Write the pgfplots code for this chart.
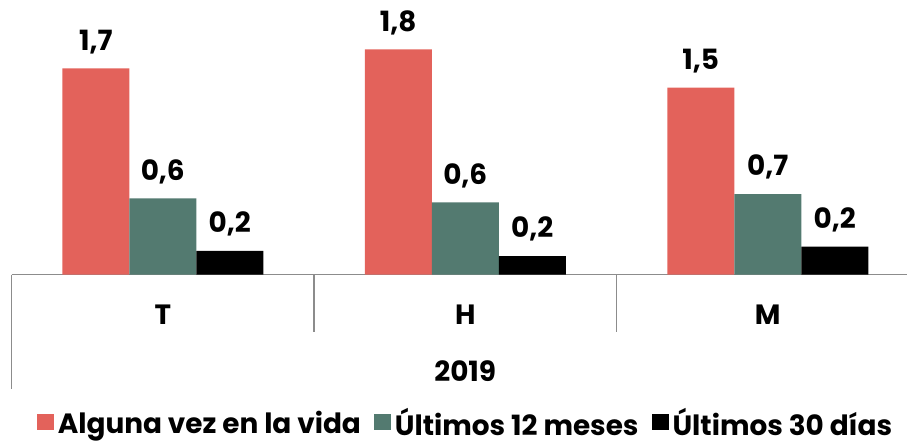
\documentclass[border=0pt]{standalone}
\usepackage{pgfplots}
\pgfplotsset{compat=1.18}
\usepackage{fontspec}
\setmainfont{Poppins}
\definecolor{cred}{RGB}{227,98,91}
\definecolor{cteal}{RGB}{83,122,112}
\definecolor{cgrid}{RGB}{140,140,140}
\newcommand\lf{\fontsize{28}{32}\selectfont\bfseries}
\begin{document}
\begin{tikzpicture}
\begin{axis}[
  scale only axis, width=895.5bp, height=274.5bp,
  at={(11.5bp,166.5bp)}, anchor=south west,
  xmin=-0.5, xmax=2.4603, ymin=0, ymax=2.241,
  axis x line=bottom, axis y line=none,
  x axis line style={-, cgrid, line width=1.2bp},
  xtick={0,1,2}, xticklabels={T,H,M}, major tick length=0pt,
  xticklabel style={font=\lf, anchor=base, inner sep=0pt, yshift=-49.5bp},
  ytick=\empty,
  ybar=0pt, bar width=67bp,
  clip=false,
  nodes near coords, point meta=explicit symbolic,
  every node near coord/.append style={font=\lf, anchor=south, inner sep=0pt, text depth=0pt, yshift=18bp},
  legend columns=3,
  legend style={draw=none, fill=none, font=\lf, inner sep=0pt, at={(465bp-11.5bp, -133bp)}, anchor=north,
    nodes={inner sep=1bp},
    /tikz/every odd column/.append style={column sep=3bp},
    /tikz/every even column/.append style={column sep=12bp}},
  legend image code/.code={\fill[#1] (0bp,-7bp) rectangle (17bp,9bp);},
]
\addplot[fill=cred, draw=none] coordinates {(0,1.683) [{1,7}] (1,1.838) [{1,8}] (2,1.525) [{1,5}]};
\addplot[fill=cteal, draw=none] coordinates {(0,0.622) [{0,6}] (1,0.589) [{0,6}] (2,0.657) [{0,7}]};
\addplot[fill=black, draw=none] coordinates {(0,0.192) [{0,2}] (1,0.151) [{0,2}] (2,0.227) [{0,2}]};
\legend{Alguna vez en la vida, Últimos 12 meses, Últimos 30 días}
\draw[cgrid, line width=1.2bp] (axis cs:-0.5,0) -- ([yshift=-114bp]axis cs:-0.5,0);
\draw[cgrid, line width=1.2bp] (axis cs:0.5,0) -- ([yshift=-57bp]axis cs:0.5,0);
\draw[cgrid, line width=1.2bp] (axis cs:1.5,0) -- ([yshift=-57bp]axis cs:1.5,0);
\node[font=\lf, anchor=base, inner sep=0pt] at ([yshift=-107bp]axis cs:1,0) {2019};
\end{axis}
\pgfresetboundingbox
\path[use as bounding box] (0,0) rectangle (907bp,441bp);
\end{tikzpicture}
\end{document}
